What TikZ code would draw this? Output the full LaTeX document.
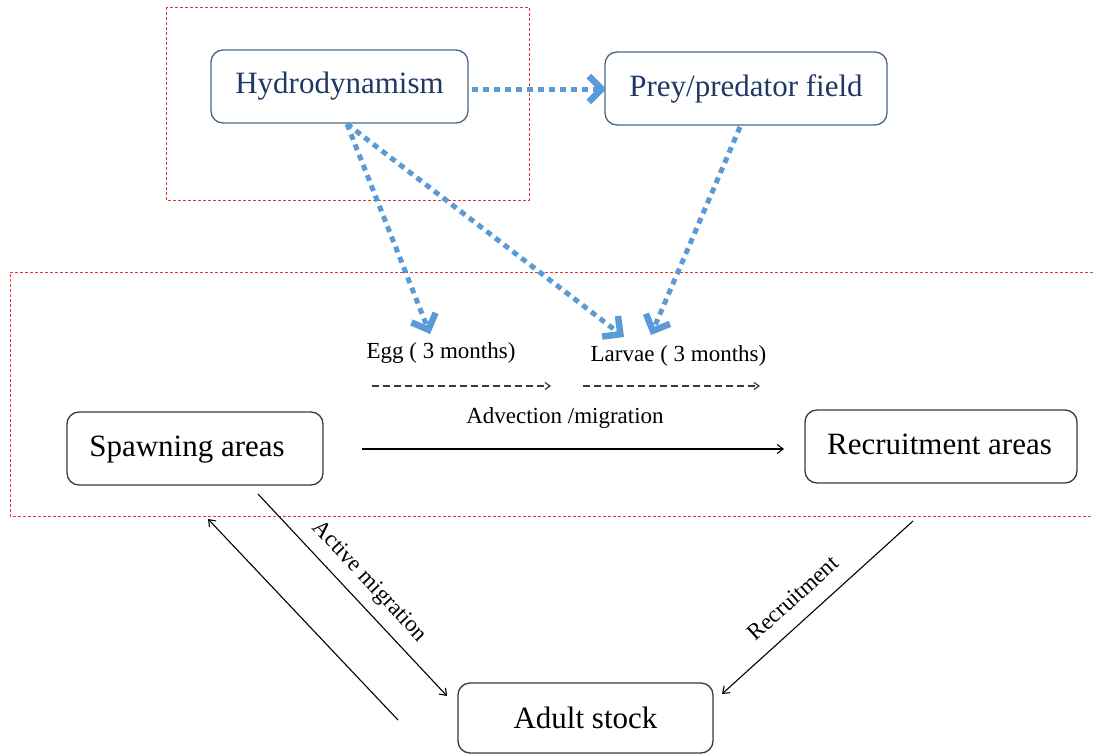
\documentclass[tikz,border=0pt]{standalone}
\usepackage{fontspec}
\setmainfont{Liberation Serif}
\usetikzlibrary{arrows.meta,calc}
\definecolor{flowblue}{HTML}{5B9BD5}
\definecolor{navytext}{HTML}{1F3864}
\definecolor{navyedge}{HTML}{4A6786}
\definecolor{frame}{HTML}{E03A3A}
\definecolor{darkedge}{HTML}{3A3A3A}
\begin{document}
\begin{tikzpicture}[x=1pt,y=-1pt,
  topbox/.style={draw=navyedge, line width=1.3pt, rounded corners=12pt, fill=white,
    text=navytext, font=\fontsize{31}{36}\selectfont, minimum height=73pt, inner sep=0pt},
  lowbox/.style={draw=darkedge, line width=1.3pt, rounded corners=12pt, fill=white,
    font=\fontsize{31}{36}\selectfont, minimum height=73pt, inner sep=0pt},
  zone/.style={draw=frame, line width=0.9pt, dash pattern=on 3pt off 2pt},
  influence/.style={draw=flowblue, line width=5pt, dash pattern=on 6pt off 5pt,
    -{Straight Barb[length=13pt,width=26pt,line width=6.5pt]}},
  stage/.style={font=\fontsize{23}{26}\selectfont},
  drift/.style={draw=darkedge, line width=1.2pt, dash pattern=on 7pt off 4pt,
    -{Straight Barb[length=5pt,width=7pt]}},
  flow/.style={draw=black, line width=1.1pt, -{Straight Barb[length=6pt,width=9pt]}},
  caption/.style={font=\fontsize{23}{26}\selectfont}]
\useasboundingbox (0,0) rectangle (1093,755);

% highlighted zones
\draw[zone] (166,7) rectangle (529,200);
\draw[zone] (1093,272) -- (10,272) -- (10,516) -- (1093,516);

% boxes
\node[topbox, minimum width=257pt] (hydro) at (339.5,86.5) {Hydrodynamism};
\node[topbox, minimum width=282pt] (prey) at (746,88.5) {Prey/predator field};
\node[lowbox, minimum width=256pt, text depth=4pt] (spawn) at (195,448.5) {\hspace*{-16pt}Spawning areas};
\node[lowbox, minimum width=272pt, text depth=4pt] (recruit) at (941,446.5) {\hspace*{-3pt}Recruitment areas};
\node[lowbox, minimum width=255pt, minimum height=70pt] (adult) at (585.5,718) {Adult stock};

% life stages
\node[stage] (egg) at (441,353) {Egg ( 3 months)};
\node[stage] (larvae) at (678.5,356) {Larvae ( 3 months)};
\node[caption] (adv) at (565,418) {Advection /migration};

% influences of the physical and biological fields
\coordinate (hbot) at (347,124);
\coordinate (eggtop) at (430,334);
\coordinate (larvtopA) at (624,337);
\coordinate (larvtopB) at (651,335);
\coordinate (pbot) at (740,127);
\draw[influence] ($(hydro.east)+(3,2.5)$) -- ($(prey.west)+(2,0.5)$);
\draw[influence] (hbot) -- (eggtop);
\draw[influence] (hbot) -- (larvtopA);
\draw[influence] (pbot) -- (larvtopB);

% drift of eggs and larvae
\coordinate (d1s) at (372,386);
\coordinate (d1e) at (551,386);
\coordinate (d2s) at (583,386);
\coordinate (d2e) at (760,386);
\draw[drift] (d1s) -- (d1e);
\draw[drift] (d2s) -- (d2e);

% transport from spawning to recruitment areas
\coordinate (advs) at (362,449);
\coordinate (adve) at (784,449);
\draw[flow] (advs) -- (adve);

% adult migrations and recruitment
\coordinate (sp1) at (258,494);
\coordinate (ad1) at (447,696);
\coordinate (ad2) at (398,720);
\coordinate (sp2) at (208,519);
\coordinate (rc1) at (913,521);
\coordinate (ad3) at (722,694);
\draw[flow] (sp1) -- (ad1);
\draw[flow] (ad2) -- (sp2);
\draw[flow] (rc1) -- (ad3);

\node[caption, rotate=-46.8] (active) at (369,582) {Active migration};
\node[caption, rotate=42.2] (recr) at (793,598) {Recruitment};
\end{tikzpicture}
\end{document}
